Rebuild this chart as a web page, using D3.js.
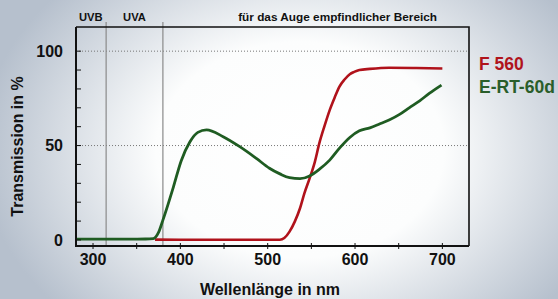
<!DOCTYPE html>
<html><head><meta charset="utf-8">
<script src="https://cdn.jsdelivr.net/npm/d3@7"></script>
<style>html,body{margin:0;padding:0;overflow:hidden;}svg{display:block;font-family:"Liberation Sans",Arial,sans-serif;font-weight:bold;}</style>
</head><body>
<script>
// ---- data ----
const xTicks = [300, 400, 500, 600, 700];
const xMinorTicks = [300, 350, 400, 450, 500, 550, 600, 650, 700];
const yTicks = [0, 50, 100];
const yMinorTicks = [0, 10, 20, 30, 40, 50, 60, 70, 80, 90, 100];
const gridLines = [50, 100];
const regionBounds = [315, 380];
const regionLabels = [
  {text: "UVB", from: 280, to: 315},
  {text: "UVA", from: 315, to: 380},
  {text: "für das Auge empfindlicher Bereich", from: 380, to: 780}
];
const seriesNames = ["F 560", "E-RT-60d"];
const f560Wl = [371, 400, 450, 500, 514, 519, 525, 531, 537, 542, 548, 554, 559, 565, 571, 577, 582, 588, 594, 599, 605, 617, 639, 670, 700];
const f560T  = [0.2, 0.1, 0.1, 0.1, 0.1, 1.0, 4.4, 9.7, 16.8, 24.7, 32.6, 41.4, 51.0, 60.3, 68.8, 75.8, 81.1, 85.0, 87.8, 89.0, 90.0, 90.6, 91.2, 91.1, 90.8];
const ertWl = [280, 320, 360, 369, 375, 380, 386, 392, 401, 411, 420, 430, 449, 468, 487, 502, 514, 525, 537, 548, 559, 571, 582, 594, 605, 617, 628, 639, 651, 662, 674, 685, 699];
const ertT  = [0.4, 0.4, 0.5, 0.7, 4.0, 10.5, 19.0, 28.0, 42.0, 52.0, 57.0, 58.3, 54.7, 49.4, 43.2, 38.0, 35.0, 33.0, 32.5, 33.9, 37.4, 42.3, 48.5, 54.3, 57.8, 59.4, 61.4, 63.5, 66.5, 70.0, 73.7, 77.6, 82.0];

const W = 558, H = 299;
const m = {left: 76, top: 27, right: 469, bottom: 246};
const svg = d3.select("body").append("svg").attr("width", W).attr("height", H);

const defs = svg.append("defs");
const rg = defs.append("radialGradient").attr("id", "bg")
  .attr("gradientUnits", "userSpaceOnUse")
  .attr("cx", 300).attr("cy", 150).attr("r", 320)
  .attr("gradientTransform", "translate(300,150) scale(1,0.75) translate(-300,-150)");
rg.append("stop").attr("offset", 0).attr("stop-color", "#ffffff");
rg.append("stop").attr("offset", 0.45).attr("stop-color", "#fcfdfd");
rg.append("stop").attr("offset", 1).attr("stop-color", "#b6c0cd");
svg.append("rect").attr("width", W).attr("height", H).attr("fill", "url(#bg)");

const x = d3.scaleLinear().domain([280.5, 730.5]).range([m.left, m.right]);
const y = d3.scaleLinear().domain([-3.2, 112.8]).range([m.bottom, m.top]);

// gridlines
svg.selectAll("line.grid").data(gridLines).enter().append("line")
  .attr("x1", m.left).attr("x2", m.right)
  .attr("y1", d => y(d)).attr("y2", d => y(d))
  .attr("stroke", "#777").attr("stroke-width", 1).attr("stroke-dasharray", "1,2");

// region lines
svg.selectAll("line.reg").data(regionBounds).enter().append("line")
  .attr("x1", d => x(d)).attr("x2", d => x(d))
  .attr("y1", 22).attr("y2", m.bottom)
  .attr("stroke", "#8a8a8a").attr("stroke-width", 1.2);

// region labels
svg.selectAll("text.reg").data(regionLabels).enter().append("text")
  .attr("x", d => (x(d.from) + x(d.to)) / 2)
  .attr("y", 20.5).attr("text-anchor", "middle")
  .attr("font-size", (d, i) => i === 2 ? 11.8 : 11.2).attr("fill", "#111")
  .text(d => d.text);

// lines
const line = d3.line().curve(d3.curveMonotoneX).x(d => x(d[0])).y(d => y(d[1]));
svg.append("path").datum(f560Wl.map((w, i) => [w, f560T[i]]))
  .attr("d", line).attr("fill", "none").attr("stroke", "#b0121b").attr("stroke-width", 2.6);
svg.append("path").datum(ertWl.map((w, i) => [w, ertT[i]]))
  .attr("d", line).attr("fill", "none").attr("stroke", "#1f5c22").attr("stroke-width", 2.8);

// frame top/right
svg.append("path").attr("d", `M${m.left},${m.top}H${m.right}V${m.bottom}`)
  .attr("fill", "none").attr("stroke", "#111").attr("stroke-width", 1.6);
// axes lines
svg.append("path").attr("d", `M${m.left},${m.top}V${m.bottom}H${m.right}`)
  .attr("fill", "none").attr("stroke", "#111").attr("stroke-width", 2);

// x ticks
svg.selectAll("line.xt").data(xMinorTicks).enter().append("line")
  .attr("x1", d => x(d)).attr("x2", d => x(d))
  .attr("y1", m.bottom - 3).attr("y2", m.bottom + 3)
  .attr("stroke", "#111").attr("stroke-width", 1);
svg.selectAll("text.xt").data(xTicks).enter().append("text")
  .attr("x", d => x(d)).attr("y", 265).attr("text-anchor", "middle")
  .attr("font-size", 16).attr("fill", "#111").text(d => d);

// y ticks
svg.selectAll("line.yt").data(yMinorTicks).enter().append("line")
  .attr("x1", m.left).attr("x2", m.left + 5)
  .attr("y1", d => y(d)).attr("y2", d => y(d))
  .attr("stroke", "#111").attr("stroke-width", 1);
svg.selectAll("text.yt").data(yTicks).enter().append("text")
  .attr("x", 63).attr("y", d => y(d) + 5.7).attr("text-anchor", "end")
  .attr("font-size", 16).attr("fill", "#111").text(d => d);

// axis titles
svg.append("text").attr("x", 270).attr("y", 295).attr("text-anchor", "middle")
  .attr("font-size", 16).attr("fill", "#111").text("Wellenlänge in nm");
svg.append("text").attr("transform", "translate(23,146.5) rotate(-90)").attr("text-anchor", "middle")
  .attr("font-size", 16).attr("fill", "#111").text("Transmission in %");

// legend
const legendColors = ["#b0141c", "#2a5e2a"];
svg.selectAll("text.leg").data(seriesNames).enter().append("text")
  .attr("x", 479).attr("y", (d, i) => 70 + i * 23.3)
  .attr("font-size", 17.5).attr("fill", (d, i) => legendColors[i]).text(d => d);
</script>
</body></html>
